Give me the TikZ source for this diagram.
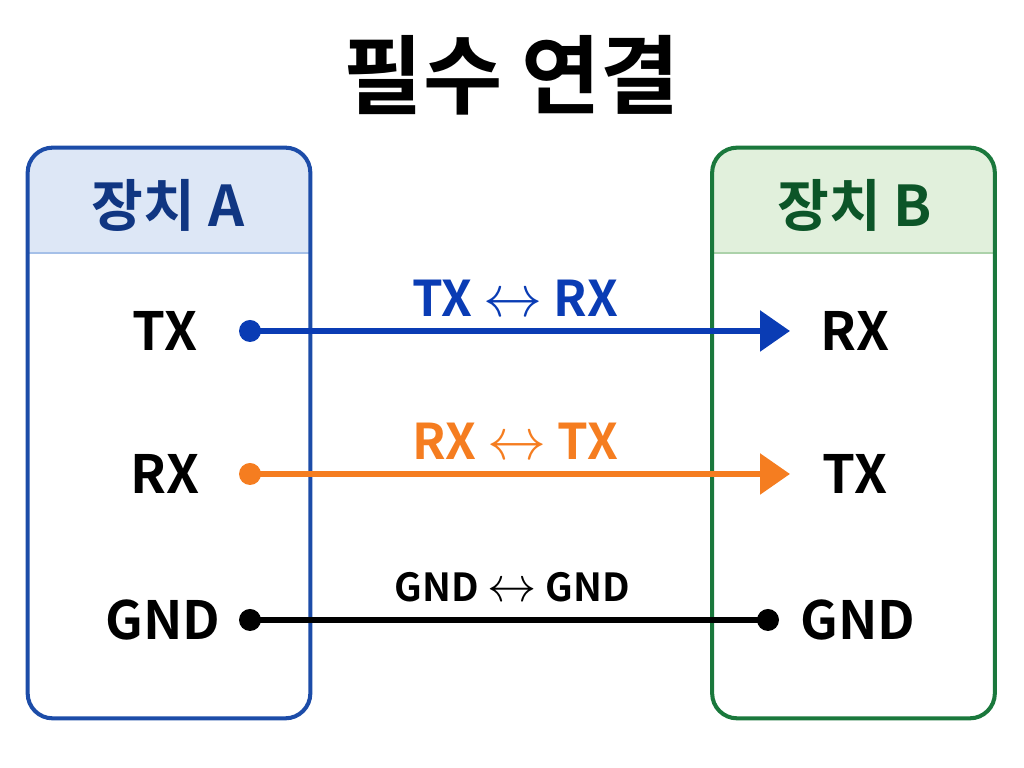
\documentclass[tikz,border=0pt]{standalone}
\usepackage{fontspec}
\usepackage{graphicx}
\setmainfont{Noto Sans CJK KR}[BoldFont={Noto Sans CJK KR Bold}]
\usetikzlibrary{positioning, arrows.meta, calc}
\definecolor{devablue}{RGB}{28,76,168}
\definecolor{devahdr}{RGB}{221,231,246}
\definecolor{devaline}{RGB}{165,192,232}
\definecolor{devatext}{RGB}{16,54,130}
\definecolor{devbgreen}{RGB}{26,120,60}
\definecolor{devbhdr}{RGB}{225,240,220}
\definecolor{devbline}{RGB}{172,210,170}
\definecolor{devbtext}{RGB}{12,85,40}
\definecolor{wireblue}{RGB}{10,60,180}
\definecolor{wireorange}{RGB}{245,125,32}

\newcommand{\bothway}{\scalebox{1.35}{$\leftrightarrow$}}

\tikzset{
  devbox/.style={rectangle, minimum width=5.64cm, minimum height=11.4cm},
  devframe/.style={line width=2.3pt, rounded corners=0.5cm},
  hdrlbl/.style={font=\fontsize{32}{38}\selectfont\bfseries},
  pinlbl/.style={font=\fontsize{30}{36}\selectfont\bfseries},
  wirelbl/.style={font=\fontsize{28}{34}\selectfont\bfseries, inner sep=0pt},
  wire/.style={line width=3.3pt},
  pindot/.style={circle, fill, inner sep=0pt, minimum size=0.44cm},
  wiretip/.style={-{Triangle[length=0.6cm, width=0.8cm]}}
}

\begin{document}
\begin{tikzpicture}
\useasboundingbox (0,0) rectangle (20.48,15.36);

% Titel
\node[font=\fontsize{49}{56}\selectfont\bfseries] (title) at (10.24,13.86) {필수 연결};

% Geraet A
\node[devbox] (devA) at (3.38,6.70) {};
\begin{scope}
  \clip[rounded corners=0.5cm] (devA.south west) rectangle (devA.north east);
  \fill[devahdr] (devA.north west) rectangle (devA.east |- 0,10.30);
  \draw[devaline, line width=1.5pt] (devA.west |- 0,10.30) -- (devA.east |- 0,10.30);
\end{scope}
\draw[devframe, devablue] (devA.south west) rectangle (devA.north east);
\node[hdrlbl, devatext] (hdrA) at (3.36,11.26) {장치 A};

% Geraet B
\node[devbox] (devB) at (17.07,6.70) {};
\begin{scope}
  \clip[rounded corners=0.5cm] (devB.south west) rectangle (devB.north east);
  \fill[devbhdr] (devB.north west) rectangle (devB.east |- 0,10.30);
  \draw[devbline, line width=1.5pt] (devB.west |- 0,10.30) -- (devB.east |- 0,10.30);
\end{scope}
\draw[devframe, devbgreen] (devB.south west) rectangle (devB.north east);
\node[hdrlbl, devbtext] (hdrB) at (17.10,11.26) {장치 B};

% Anschluesse
\node[pinlbl] (aTX) at (3.30,8.74) {TX};
\node[pinlbl] (aRX) at (3.30,5.88) {RX};
\node[pinlbl] (aGND) at (3.26,2.96) {GND};
\node[pinlbl] (bRX) at (17.10,8.74) {RX};
\node[pinlbl] (bTX) at (17.10,5.88) {TX};
\node[pinlbl] (bGND) at (17.16,2.96) {GND};

% Verbindungen
\node[pindot, wireblue] (dTX) at (5.00,8.74) {};
\node[pindot, wireorange] (dRX) at (5.00,5.88) {};
\node[pindot] (dGNDa) at (5.00,2.96) {};
\node[pindot] (dGNDb) at (15.36,2.96) {};
\coordinate (eTX) at (15.80,8.74);
\coordinate (eRX) at (15.80,5.88);

\draw[wire, wiretip, wireblue] (dTX.center) -- (eTX)
  node[midway, above=0.24cm, xshift=-0.1cm, wirelbl] {TX \bothway{} RX};
\draw[wire, wiretip, wireorange] (dRX.center) -- (eRX)
  node[midway, above=0.24cm, xshift=-0.1cm, wirelbl] {RX \bothway{} TX};
\draw[wire] (dGNDa.center) -- (dGNDb.center)
  node[midway, above=0.3cm, xshift=0.06cm, wirelbl, font=\fontsize{22}{26}\selectfont\bfseries] {GND \bothway{} GND};
\end{tikzpicture}
\end{document}
